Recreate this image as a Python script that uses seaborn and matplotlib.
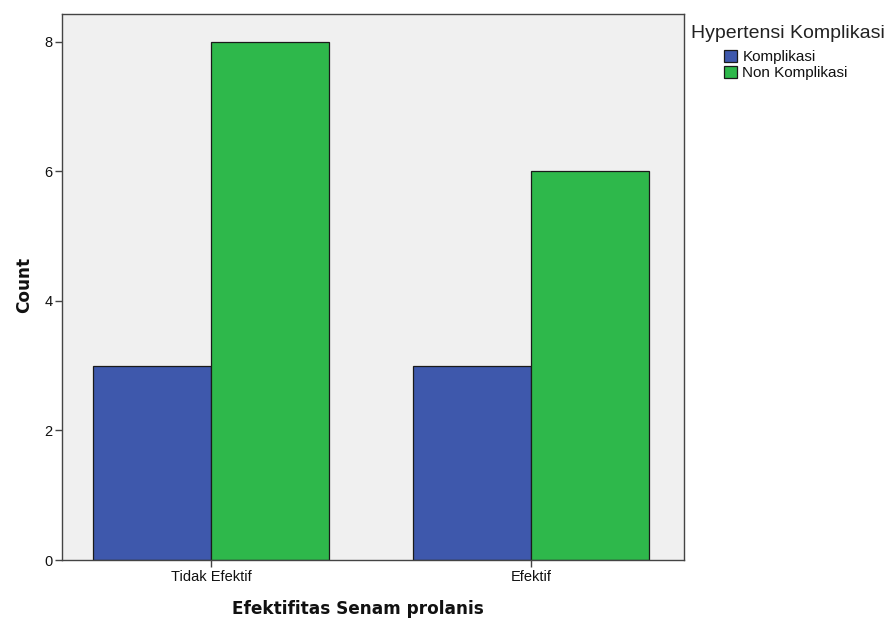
import pandas as pd
import matplotlib.pyplot as plt
import seaborn as sns

categories = ["Tidak Efektif", "Efektif"]
groups = ["Komplikasi", "Non Komplikasi"]
komplikasi = [3, 3]
non_komplikasi = [8, 6]

data = pd.DataFrame({
    "Efektifitas": categories * 2,
    "Hypertensi": [groups[0]] * 2 + [groups[1]] * 2,
    "Count": komplikasi + non_komplikasi,
})

sns.set_style("ticks")
plt.rcParams['font.family'] = ['Liberation Sans', 'DejaVu Sans']

W, H = 890, 618
fig = plt.figure(figsize=(8.9, 6.18), dpi=100)
ax = fig.add_axes([62/W, 1-560/H, (684-62)/W, (560-14)/H])
ax.set_facecolor("#F0F0F0")

sns.barplot(data=data, x="Efektifitas", y="Count", hue="Hypertensi",
            order=categories, hue_order=groups,
            palette=["#3E58AC", "#2EB84B"], width=0.74, gap=0,
            edgecolor="#1a1a1a", linewidth=0.9, saturation=1, ax=ax)

ax.set_xlim(-0.4656, 1.478)
ax.set_ylim(0, 8.43)
ax.set_yticks([0, 2, 4, 6, 8])
for s in ax.spines.values():
    s.set_color("#444444")
    s.set_linewidth(1.0)
ax.tick_params(axis="both", direction="out", length=5, width=1,
               color="#444444", labelsize=10.5, pad=2, labelcolor="#111111")

ax.set_xlabel("Efektifitas Senam prolanis", fontsize=12.2, fontweight="bold",
              family="DejaVu Sans", color="#111111")
ax.xaxis.set_label_coords((358-62)/622, (560-614)/546)
ax.xaxis.label.set_va("baseline")
ax.set_ylabel("Count", fontsize=12.2, fontweight="bold", family="DejaVu Sans",
              color="#111111")
ax.yaxis.set_label_coords((33-62)/622, (560-285)/546)

ax.get_legend().remove()
fig.text(691/W, 1-38/H, "Hypertensi Komplikasi", fontsize=14,
         ha="left", va="baseline", color="#222222")
handles, labels = ax.get_legend_handles_labels()
leg = fig.legend(handles, labels, loc="upper left",
                 bbox_to_anchor=(724/W, 1-50/H), bbox_transform=fig.transFigure,
                 frameon=False, fontsize=11, borderpad=0, borderaxespad=0,
                 handlelength=0.85, handleheight=0.8,
                 handletextpad=0.35, labelspacing=0.12)
for h in leg.legend_handles:
    h.set_edgecolor("#1a1a1a")
for t in leg.get_texts():
    t.set_color("#111111")

fig.savefig("out.png", dpi=100)
